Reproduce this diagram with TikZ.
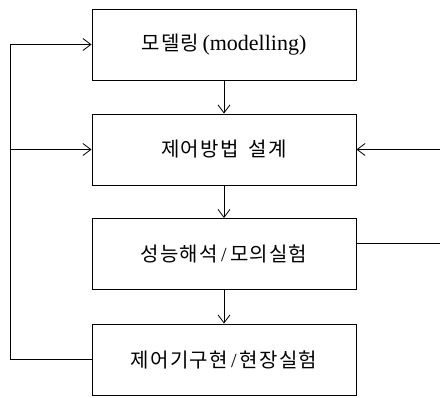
\documentclass[tikz,border=0pt]{standalone}
\usepackage{fontspec}
\setmainfont{Liberation Serif}
\newfontfamily\kr[LetterSpace=6]{Noto Sans CJK KR}
\usetikzlibrary{arrows.meta}
\begin{document}
\begin{tikzpicture}[x=1pt,y=-1pt,
  blk/.style={draw,line width=0.9pt,minimum width=264pt,minimum height=71pt,inner sep=0pt,font=\fontsize{20}{24}\selectfont},
  conn/.style={line width=0.8pt},
  arr/.style={conn,-{Straight Barb[length=8pt,width=12pt]}}]
\useasboundingbox (0,0) rectangle (440,398);
\node[blk] (b1) at (224,44.5) {{\kr 모델링}\,{\fontsize{22}{24}\selectfont(modelling)}};
\node[blk] (b2) at (224,149.5) {{\kr 제어방법\hspace{10pt}설계}};
\node[blk] (b3) at (224,254) {{\kr 성능해석}\,/\,{\kr 모의실험}};
\node[blk] (b4) at (224,359.5) {{\kr 제어기구현}\,/\,{\kr 현장실험}};
\coordinate (lb) at (10,359.5);
\coordinate (r2) at (440,149.5);
\coordinate (r3) at (440,243);
\draw[arr] (b1) -- (b2);
\draw[arr] (b2) -- (b3);
\draw[arr] (b3) -- (b4);
\draw[arr] (b4.west) -- (lb) |- (b1.west);
\draw[arr] (b2.west -| lb) -- (b2.west);
\draw[arr] (r2) -- (b2.east);
\draw[conn] (b3.east |- r3) -- (r3);
\end{tikzpicture}
\end{document}
